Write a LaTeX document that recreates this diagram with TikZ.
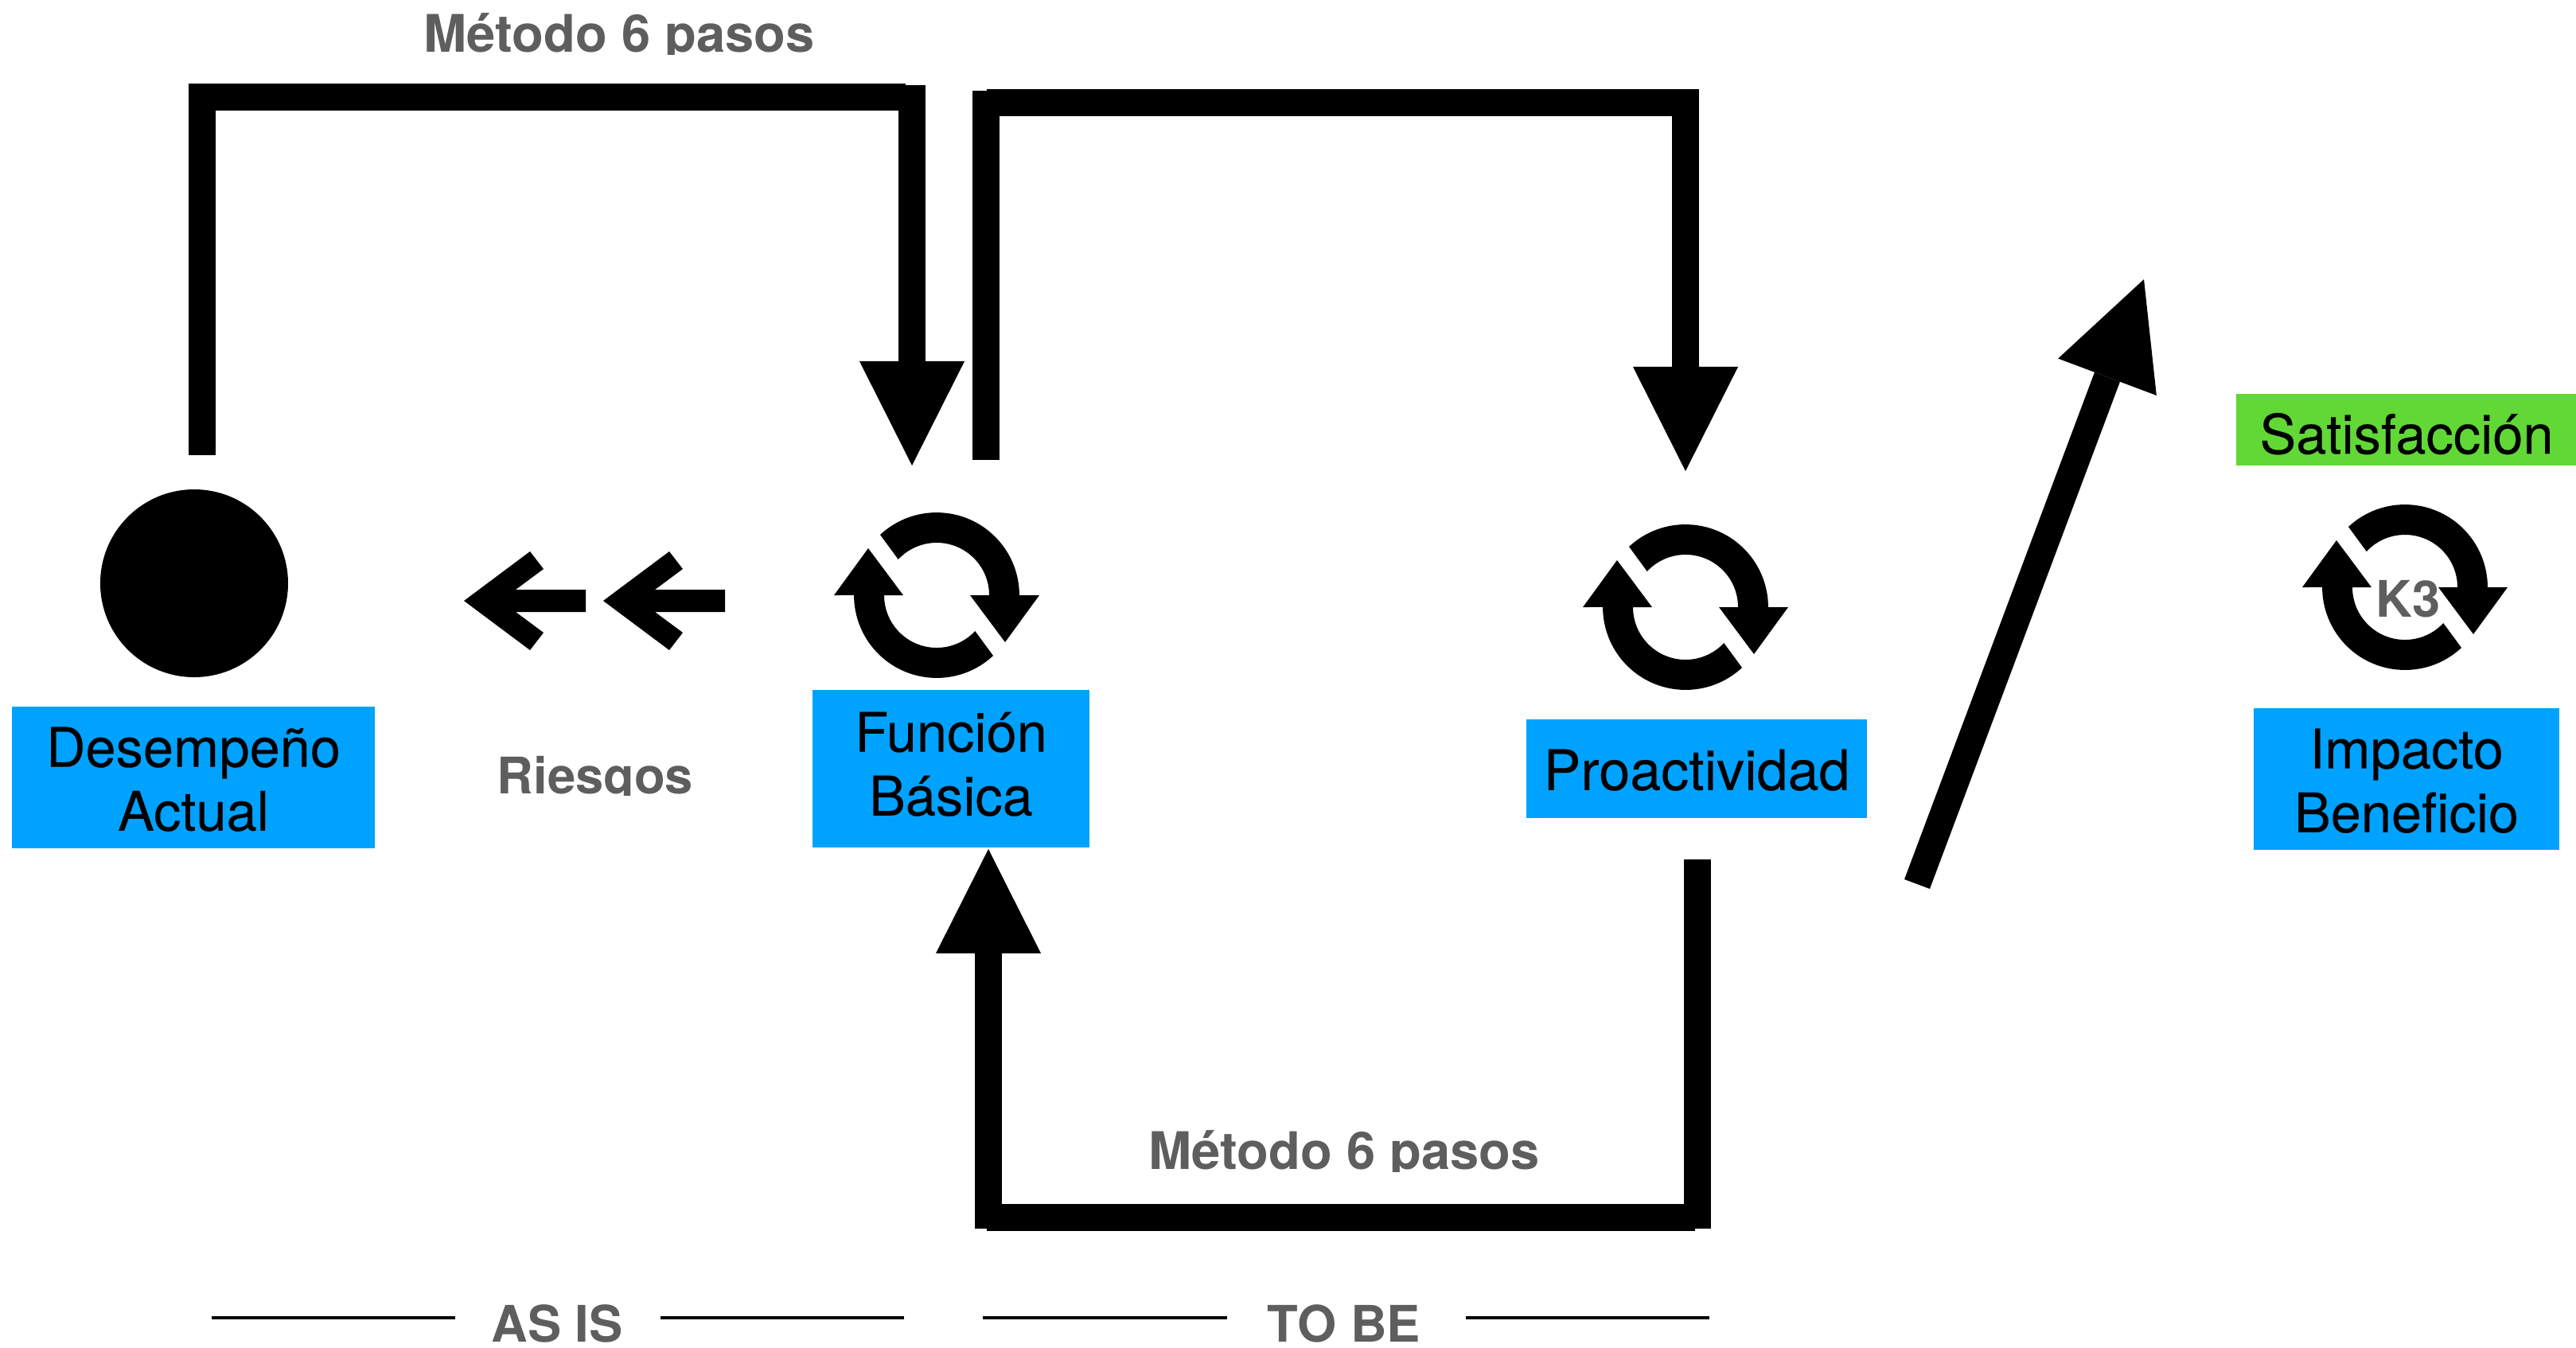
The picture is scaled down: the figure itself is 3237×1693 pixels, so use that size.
\documentclass[tikz,border=0pt]{standalone}
\usepackage{fontspec}
\setmainfont{TeX Gyre Heros}
\newfontfamily\boxfont[FakeBold=0.2]{TeX Gyre Heros}
\usetikzlibrary{arrows.meta}
\definecolor{boxblue}{HTML}{00A2FF}
\definecolor{boxgreen}{HTML}{61D836}
\definecolor{labelgray}{HTML}{5E5E5E}
\tikzset{
    bigarrow/.style={line width=9.7pt,-{Triangle[length=1.31cm,width=1.32cm,line width=0pt]}},
    bigline/.style={line width=9.7pt},
    rule/.style={line width=1.1pt},
    bluebox/.style={fill=boxblue,inner sep=0pt,align=center,font=\fontsize{19.5}{22.8}\selectfont\boxfont},
    graylabel/.style={text=labelgray,inner sep=0pt,anchor=base,font=\fontsize{18}{21}\selectfont\bfseries},
    loopicon/.pic={
        \foreach \turn in {0,180} {
            \fill [black,rotate=\turn] ( -71,-76 ) arc ( -133:0:104 ) -- ( 129,0 ) -- ( 86,59 ) -- ( 42,0 ) -- ( 66,0 ) arc ( 0:-137:66 ) -- cycle;
        }
    },
    riskarrow/.pic={
        \fill [black] ( 0,0 ) -- ( 83,-62 ) -- ( 100,-40 ) -- ( 65,-14 ) -- ( 153,-14 ) -- ( 153,14 ) -- ( 65,14 ) -- ( 100,40 ) -- ( 83,62 ) -- cycle;
    }
}

\begin{document}
\begin{tikzpicture}[x=0.01cm,y=-0.01cm]
    \useasboundingbox ( 0,0 ) rectangle ( 3237,1693 );
    % boxes
    \node [bluebox,minimum width=4.56cm,minimum height=1.78cm] (actual) at ( 243,977 ) {\rule{0pt}{15.5pt}Desempeño\\Actual};
    \node [bluebox,minimum width=3.48cm,minimum height=1.97cm] (funcion) at ( 1195,966 ) {Función\\Básica\rule[-3.6pt]{0pt}{0pt}};
    \node [bluebox,font=\fontsize{19.9}{22.8}\selectfont\boxfont,minimum width=4.27cm,minimum height=1.24cm] (proactiva) at ( 2132,966 ) {\rule{0pt}{15.5pt}Proactividad};
    \node [bluebox,minimum width=3.83cm,minimum height=1.77cm] (impacto) at ( 3024,979 ) {\rule{0pt}{15.5pt}Impacto\\Beneficio};
    \node [bluebox,fill=boxgreen,minimum width=4.27cm,minimum height=0.89cm] (satisfaccion) at ( 3024,540 ) {\rule{0pt}{17.5pt}Satisfacción};
    % coordinates of the connectors
    \coordinate (a1) at ( 254,572 );
    \coordinate (a2) at ( 254,105 );
    \coordinate (a3) at ( 238,122 );
    \coordinate (a4) at ( 1138,122 );
    \coordinate (a5) at ( 1146,107 );
    \coordinate (a6) at ( 1146,585 );
    \coordinate (b1) at ( 1239,578 );
    \coordinate (b2) at ( 1239,114 );
    \coordinate (b3) at ( 1240,129 );
    \coordinate (b4) at ( 2125,129 );
    \coordinate (b5) at ( 2118,112 );
    \coordinate (b6) at ( 2118,592 );
    \coordinate (c1) at ( 2133,1080 );
    \coordinate (c2) at ( 2133,1544 );
    \coordinate (c3) at ( 2130,1530 );
    \coordinate (c4) at ( 1240,1530 );
    \coordinate (c5) at ( 1242,1544 );
    \coordinate (c6) at ( 1242,1067 );
    \coordinate (d1) at ( 2409,1111 );
    \coordinate (d2) at ( 2694,351 );
    % thick arrows
    \draw [bigline] (a1) -- (a2);
    \draw [bigline] (a3) -- (a4);
    \draw [bigarrow] (a5) -- (a6);
    \draw [bigline] (b1) -- (b2);
    \draw [bigline] (b3) -- (b4);
    \draw [bigarrow] (b5) -- (b6);
    \draw [bigline] (c1) -- (c2);
    \draw [bigline] (c3) -- (c4);
    \draw [bigarrow] (c5) -- (c6);
    \draw [bigarrow] (d1) -- (d2);
    % icons
    \fill [black] ( 244,733 ) circle ( 118 );
    \pic at ( 583,755 ) {riskarrow};
    \pic at ( 758,755 ) {riskarrow};
    \pic at ( 1177,748 ) {loopicon};
    \pic at ( 2118,763 ) {loopicon};
    \pic at ( 3022,738 ) {loopicon};
    % labels
    \node [graylabel] (ktres) at ( 3026,775 ) {K3};
    \begin{scope}
        \clip ( 0,0 ) rectangle ( 3237,68 );
        \node [graylabel,font=\fontsize{18.5}{21}\selectfont\bfseries] (metodoa) at ( 778,65 ) {Método 6 pasos};
    \end{scope}
    \begin{scope}
        \clip ( 0,900 ) rectangle ( 3237,999 );
        \node [graylabel] (riesgos) at ( 748,997 ) {Riesgos};
    \end{scope}
    \begin{scope}
        \clip ( 0,1400 ) rectangle ( 3237,1472 );
        \node [graylabel,font=\fontsize{18.5}{21}\selectfont\bfseries] (metodob) at ( 1689,1469 ) {Método 6 pasos};
    \end{scope}
    \node [graylabel] (asis) at ( 700,1686 ) {AS IS};
    \node [graylabel] (tobe) at ( 1689,1686 ) {TO BE};
    % rules
    \draw [rule] ( 266,1656 ) -- ( 572,1656 )  ( 830,1656 ) -- ( 1136,1656 );
    \draw [rule] ( 1235,1656 ) -- ( 1542,1656 )  ( 1842,1656 ) -- ( 2148,1656 );
\end{tikzpicture}
\end{document}
